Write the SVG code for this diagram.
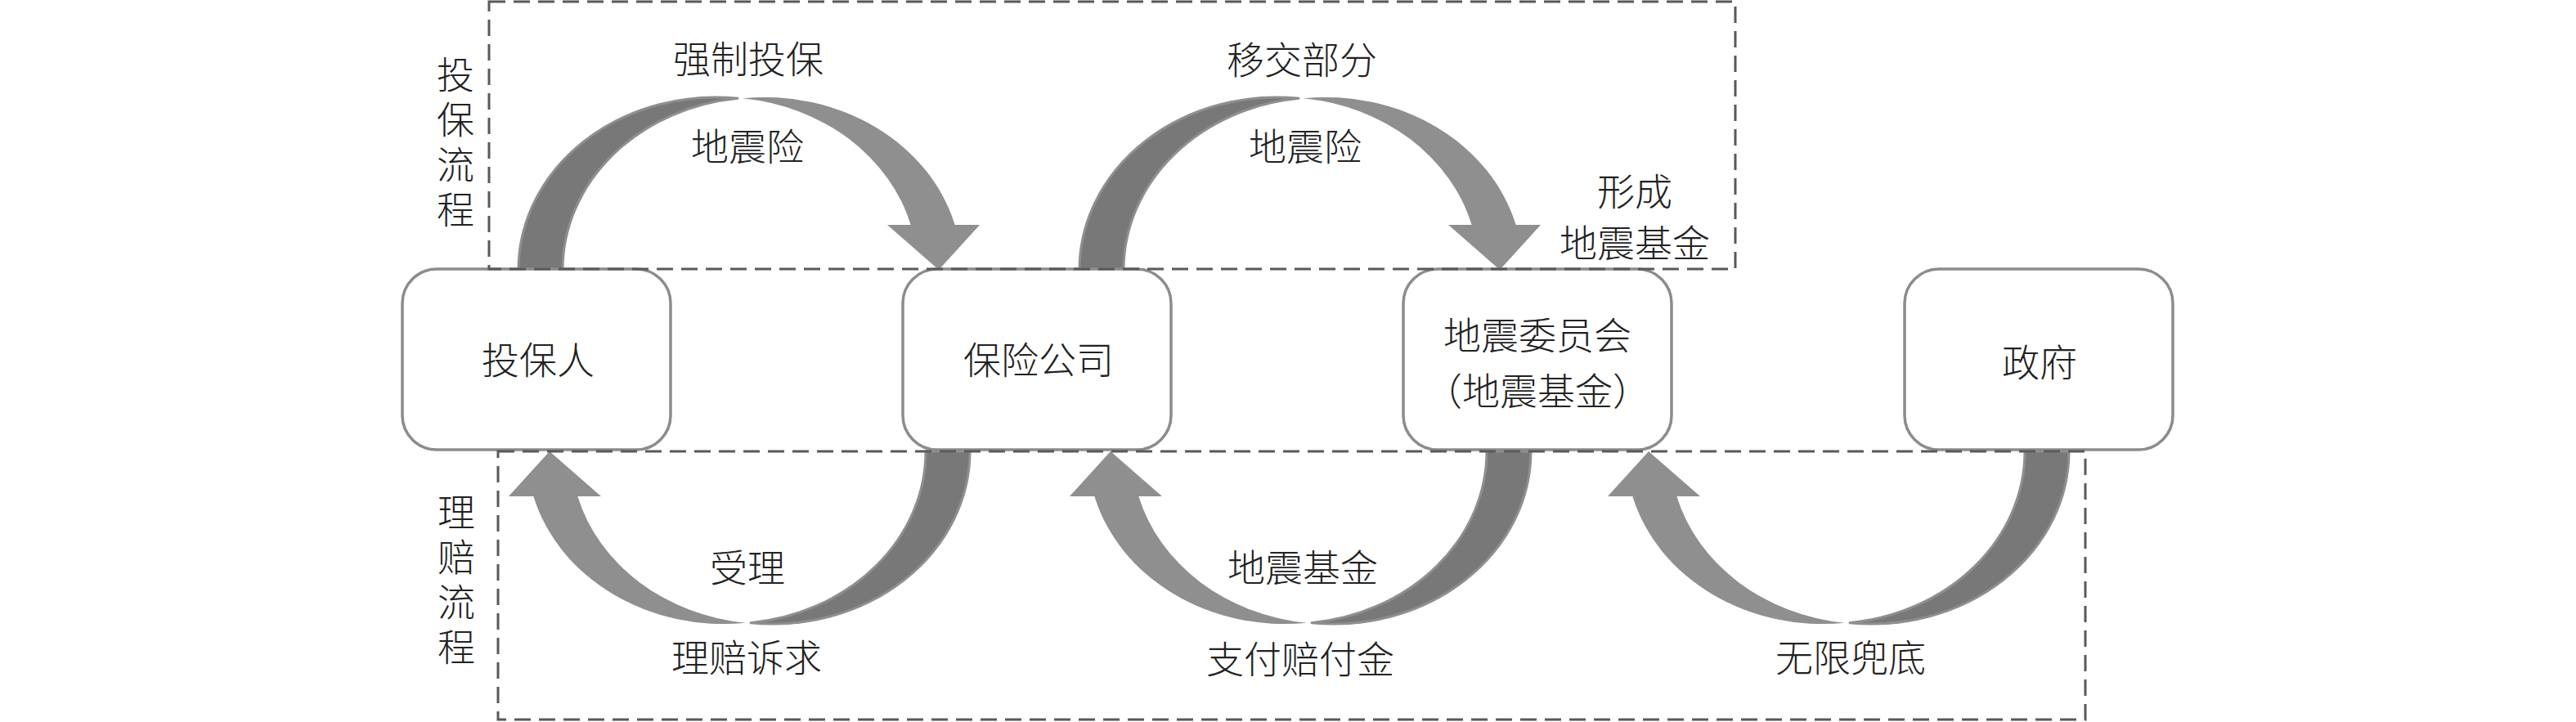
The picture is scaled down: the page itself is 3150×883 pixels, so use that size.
<svg xmlns="http://www.w3.org/2000/svg" width="3150" height="883" viewBox="0 0 3150 883">
<style>
.box{fill:#fff;stroke:#8c8c8c;stroke-width:3.5}
.t{font-family:"Noto Sans CJK SC","Noto Sans CJK JP",sans-serif;font-size:46px;fill:#222;text-anchor:middle;font-weight:300}
.v{font-family:"Noto Sans CJK SC","Noto Sans CJK JP",sans-serif;font-size:46px;fill:#222;font-weight:300;writing-mode:vertical-rl;letter-spacing:9px}
.frame{fill:none;stroke:#595959;stroke-width:3;stroke-dasharray:20 10}
.lt{fill:#8f8f8f}
.dk{fill:#787878;stroke:#8f8f8f;stroke-width:3;stroke-linejoin:round}
</style>
<defs>
<g id="arc">
<path class="lt" d="M 908 120.2 A 241 211 0 0 1 1167.65 275 L 1198 275 L 1148 330 L 1085 275 L 1113.65 275 A 241 211 0 0 0 908 120.2 Z"/>
<path class="dk" d="M 634 330 A 241 211 0 0 1 902 120.3 A 241 211 0 0 0 688 330 Z"/>
</g>
</defs>
<rect width="3150" height="883" fill="#fff"/>
<g id="connectors">
<use id="e1" href="#arc"/>
<use id="e2" href="#arc" transform="translate(686 0)"/>
<use id="e3" href="#arc" transform="rotate(180 910 441)"/>
<use id="e4" href="#arc" transform="translate(686 0) rotate(180 910 441)"/>
<use id="e5" href="#arc" transform="translate(1344 0) rotate(180 910 441)"/>
</g>
<g id="n1"><rect class="box" x="492" y="329" width="328" height="221" rx="42"/><text class="t" x="658" y="457">投保人</text></g>
<g id="n2"><rect class="box" x="1104" y="329" width="328" height="221" rx="42"/><text class="t" x="1270" y="457">保险公司</text></g>
<g id="n3"><rect class="box" x="1716" y="329" width="328" height="221" rx="42"/><text class="t" x="1880" y="426.5">地震委员会</text><text class="t" x="1880" y="494.5">（地震基金）</text></g>
<g id="n4"><rect class="box" x="2329" y="329" width="328" height="221" rx="42"/><text class="t" x="2494" y="459.5">政府</text></g>
<g id="labels">
<text class="t" x="915" y="88.5">强制投保</text>
<text class="t" x="914" y="195.5">地震险</text>
<text class="t" x="1592" y="89.5">移交部分</text>
<text class="t" x="1596" y="195.5">地震险</text>
<text class="t" x="1999" y="250.5">形成</text>
<text class="t" x="1999" y="313.5">地震基金</text>
<text class="t" x="914" y="710.5">受理</text>
<text class="t" x="913" y="820.5">理赔诉求</text>
<text class="t" x="1593" y="710.5">地震基金</text>
<text class="t" x="1590" y="822.5">支付赔付金</text>
<text class="t" x="2263" y="820.5">无限兜底</text>
<text class="v" x="557" y="68">投保流程</text>
<text class="v" x="558" y="603">理赔流程</text>
</g>
<g id="frames">
<rect class="frame" x="598" y="2" width="1524" height="327"/>
<rect class="frame" x="609" y="552" width="1941" height="328"/>
</g>
</svg>
